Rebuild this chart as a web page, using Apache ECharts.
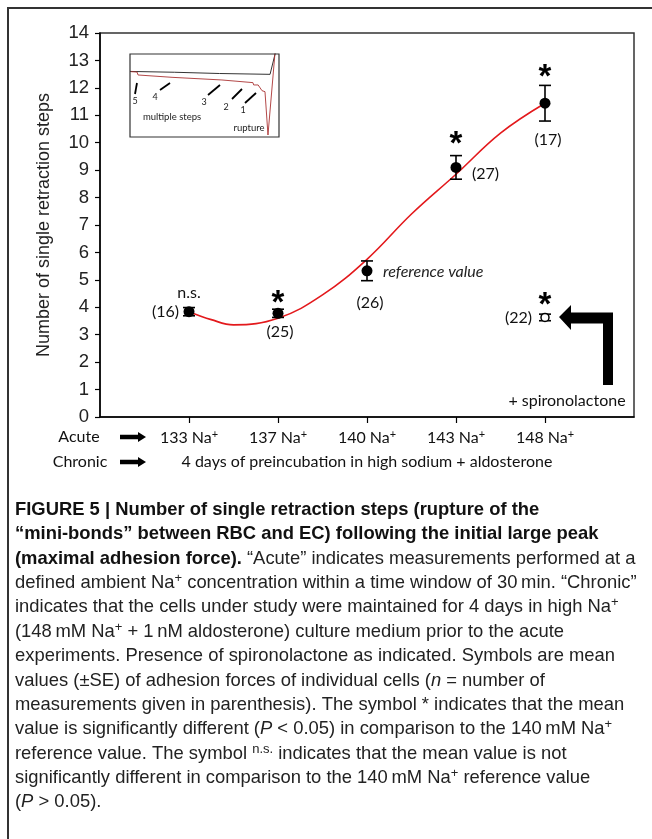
<!DOCTYPE html>
<html><head><meta charset="utf-8">
<script src="https://cdn.jsdelivr.net/npm/echarts@6/dist/echarts.min.js"></script>
<style>html,body{margin:0;padding:0;background:#fff}#c{width:652px;height:839px}</style>
</head><body><div id="c"></div>
<script>
// ---------- data ----------
const categories = ['133', '137', '140', '143', '148'];
const xPos = [1, 2, 3, 4, 5];
const meanSteps = [3.84, 3.78, 5.33, 9.10, 11.44];
const seSteps = [0.15, 0.15, 0.36, 0.43, 0.65];
const nLabels = ['(16)', '(25)', '(26)', '(27)', '(17)'];
const sigLabels = ['n.s.', '*', '', '*', '*'];
const spiroX = [5];
const spiroMean = [3.63];
const spiroSE = [0.12];
const spiroN = ['(22)'];
const spiroSig = ['*'];
const trendX = [1, 1.25, 1.5, 2, 2.5, 3, 3.5, 4, 4.5, 5];
const trendY = [3.84, 3.55, 3.36, 3.60, 4.45, 5.75, 7.40, 8.85, 10.35, 11.44];
const insetBlackX = [0, 30, 60, 94, 97.5];
const insetBlackY = [79, 78, 76.5, 75.5, 101];
const insetRedX = [0.7, 4.7, 5.4, 28.2, 28.5, 61.7, 62, 82.5, 83, 86, 88.6, 90.6, 92.6, 97.3];
const insetRedY = [78.7, 78.3, 74.7, 71.9, 71.1, 68.7, 66.3, 65.5, 62.7, 62.7, 55.8, 54.6, 2.4, 101];

// ---------- styles ----------
const CAL = 'Lato, "Open Sans", sans-serif';
const ARL = '"Liberation Sans", Arial, sans-serif';
const nLabelStyle = [
  {offset: [-10, 0], align: 'right'},
  {offset: [2, 19], align: 'center'},
  {offset: [3, 32], align: 'center'},
  {offset: [16, 6], align: 'left'},
  {offset: [3, 37], align: 'center'}
];
const sigOffsets = [[0, -15], [0, -5], [0, 0], [0, -11], [0, -7]];
const STAR = {fontFamily: ARL, fontWeight: 'bold', fontSize: 33, color: '#000'};
const HIDDEN = {color: 'rgba(0,0,0,0)', opacity: 1};

const chart = echarts.init(document.getElementById('c'));

const errData = xPos.map((x, i) => [x, meanSteps[i] - seSteps[i], meanSteps[i] + seSteps[i]])
  .concat(spiroX.map((x, i) => [x, spiroMean[i] - spiroSE[i], spiroMean[i] + spiroSE[i]]));

function errRender(params, api) {
  const x = api.value(0);
  const lo = api.coord([x, api.value(1)]);
  const hi = api.coord([x, api.value(2)]);
  const w = 6;
  const st = {stroke: '#000', lineWidth: 1.6};
  return {type: 'group', children: [
    {type: 'line', shape: {x1: lo[0], y1: lo[1], x2: hi[0], y2: hi[1]}, style: st},
    {type: 'line', shape: {x1: lo[0] - w, y1: lo[1], x2: lo[0] + w, y2: lo[1]}, style: st},
    {type: 'line', shape: {x1: hi[0] - w, y1: hi[1], x2: hi[0] + w, y2: hi[1]}, style: st}
  ]};
}

function arrowPts(x0, x1, y) {
  return [[x0, y - 2.2], [x1 - 8, y - 2.2], [x1 - 8, y - 5], [x1, y], [x1 - 8, y + 5], [x1 - 8, y + 2.2], [x0, y + 2.2]];
}

const captionLines = [
  '{b|FIGURE 5 | Number of single retraction steps (rupture of the}',
  '{b|\u201Cmini-bonds\u201D between RBC and EC) following the initial large peak}',
  '{b|(maximal adhesion force).} \u201CAcute\u201D indicates measurements performed at a',
  'defined ambient Na{s|+} concentration within a time window of 30\u2009min. \u201CChronic\u201D',
  'indicates that the cells under study were maintained for 4 days in high Na{s|+}',
  '(148\u2009mM Na{s|+} + 1\u2009nM aldosterone) culture medium prior to the acute',
  'experiments. Presence of spironolactone as indicated. Symbols are mean',
  'values (\u00B1SE) of adhesion forces of individual cells ({i|n} = number of',
  'measurements given in parenthesis). The symbol * indicates that the mean',
  'value is significantly different ({i|P} < 0.05) in comparison to the 140\u2009mM Na{s|+}',
  'reference value. The symbol {s|n.s.} indicates that the mean value is not',
  'significantly different in comparison to the 140\u2009mM Na{s|+} reference value',
  '({i|P} > 0.05).'
];
const CAPF = 18.4;
const capRich = {
  b: {fontWeight: 'bold', fontSize: CAPF, fontFamily: ARL, fill: '#111'},
  i: {fontStyle: 'italic', fontSize: CAPF, fontFamily: ARL, fill: '#222'},
  s: {fontSize: 13, fontFamily: ARL, fill: '#222', padding: [0, 0, 9, 0]}
};

const graphics = [];
graphics.push({type: 'polyline', shape: {points: [[8, 839], [8, 8], [652, 8]]}, style: {stroke: '#333', lineWidth: 2, fill: null}});
graphics.push({type: 'rect', shape: {x: 130, y: 54, width: 149, height: 83}, style: {stroke: '#333', lineWidth: 1.2, fill: null}, z: 10});
const slashes = [[[137, 83], [135, 94]], [[160, 90], [170, 83]], [[208, 95], [220, 85]], [[232, 99], [242, 89]], [[245, 103], [256, 93]]];
slashes.forEach(s => graphics.push({type: 'line', shape: {x1: s[0][0], y1: s[0][1], x2: s[1][0], y2: s[1][1]}, style: {stroke: '#000', lineWidth: 1.8}, z: 10}));
const insetNums = [['5', 135, 101], ['4', 155, 97], ['3', 204, 102], ['2', 226, 107], ['1', 243, 110]];
insetNums.forEach(n => graphics.push({type: 'text', x: n[1], y: n[2], style: {text: n[0], font: '9px ' + CAL, fill: '#222', align: 'center', verticalAlign: 'middle'}, z: 10}));
graphics.push({type: 'text', x: 172, y: 117, style: {text: 'multiple steps', font: '9.5px ' + CAL, fill: '#222', align: 'center', verticalAlign: 'middle'}, z: 10});
graphics.push({type: 'text', x: 249, y: 128, style: {text: 'rupture', font: '9.5px ' + CAL, fill: '#222', align: 'center', verticalAlign: 'middle'}, z: 10});
graphics.push({type: 'polygon', shape: {points: [[559, 317], [571, 305], [571, 312.5], [613, 312.5], [613, 385], [603, 385], [603, 323.5], [571, 323.5], [571, 330]]}, style: {fill: '#000'}, z: 10});
graphics.push({type: 'text', x: 567, y: 401, style: {text: '+ spironolactone', font: '16px ' + CAL, fill: '#111', align: 'center', verticalAlign: 'middle'}, z: 10});
graphics.push({type: 'text', x: 79, y: 437, style: {text: 'Acute', font: '16px ' + CAL, fill: '#111', align: 'center', verticalAlign: 'middle'}});
graphics.push({type: 'polygon', shape: {points: arrowPts(120, 146, 437)}, style: {fill: '#000'}});
graphics.push({type: 'text', x: 80, y: 462, style: {text: 'Chronic', font: '16px ' + CAL, fill: '#111', align: 'center', verticalAlign: 'middle'}});
graphics.push({type: 'polygon', shape: {points: arrowPts(120, 146, 462)}, style: {fill: '#000'}});
graphics.push({type: 'text', x: 367, y: 462, style: {text: '4 days of preincubation in high sodium + aldosterone', font: '16px ' + CAL, fill: '#111', align: 'center', verticalAlign: 'middle'}});
captionLines.forEach((t, i) => graphics.push({type: 'text', x: 15, y: 510 + i * 24.35,
  style: {text: t, rich: capRich, fontSize: CAPF, fontFamily: ARL, fill: '#222', align: 'left', verticalAlign: 'middle'}}));

function txtLabel(text, offset, align, extra) {
  return Object.assign({show: true, position: 'inside', formatter: text, offset: offset, align: align,
    verticalAlign: 'middle', fontFamily: CAL, fontSize: 16, color: '#111'}, extra || {});
}

const option = {
  animation: false,
  backgroundColor: '#fff',
  grid: [
    {left: 100, top: 33, right: 18, bottom: 422, show: true, borderColor: '#333', borderWidth: 1.5, backgroundColor: 'transparent', outerBoundsMode: 'none', containLabel: false},
    {left: 130, top: 54, width: 149, height: 83, show: false, outerBoundsMode: 'none', containLabel: false}
  ],
  xAxis: [
    {type: 'value', gridIndex: 0, min: 0, max: 6, interval: 1,
      axisLine: {show: true, onZero: false, lineStyle: {color: '#000', width: 1.5}},
      axisTick: {show: true, customValues: xPos, length: 6, lineStyle: {color: '#000', width: 1.2}},
      axisLabel: {show: true, customValues: xPos, margin: 12,
        formatter: v => '{a|' + categories[xPos.indexOf(v)] + ' Na}{s|+}',
        rich: {a: {fontFamily: CAL, fontSize: 16, color: '#111'}, s: {fontFamily: CAL, fontSize: 11, color: '#111', padding: [0, 0, 7, 0]}}},
      splitLine: {show: false}},
    {type: 'value', gridIndex: 1, min: 0, max: 100, show: false}
  ],
  yAxis: [
    {type: 'value', gridIndex: 0, min: 0, max: 14, interval: 1,
      axisLine: {show: true, onZero: false, lineStyle: {color: '#000', width: 1.5}},
      axisTick: {show: true, length: 5, lineStyle: {color: '#000', width: 1.2}},
      axisLabel: {fontFamily: ARL, fontSize: 18.5, color: '#222', margin: 11},
      splitLine: {show: false},
      name: 'Number of single retraction steps', nameLocation: 'middle', nameGap: 47,
      nameTextStyle: {fontFamily: ARL, fontSize: 18, color: '#222'}},
    {type: 'value', gridIndex: 1, min: 0, max: 100, show: false}
  ],
  series: [
    {type: 'line', name: 'trend', xAxisIndex: 0, yAxisIndex: 0, data: trendX.map((x, i) => [x, trendY[i]]),
      smooth: 0.4, symbol: 'none', lineStyle: {color: '#e3191c', width: 1.6}, z: 2, silent: true},
    {type: 'custom', name: 'se', xAxisIndex: 0, yAxisIndex: 0, data: errData, renderItem: errRender, z: 3, silent: true},
    {type: 'scatter', name: 'mean', xAxisIndex: 0, yAxisIndex: 0, data: xPos.map((x, i) => [x, meanSteps[i]]),
      symbol: 'circle', symbolSize: 11, itemStyle: {color: '#000', opacity: 1}, z: 4, silent: true},
    {type: 'scatter', name: 'spiro', xAxisIndex: 0, yAxisIndex: 0, data: spiroX.map((x, i) => [x, spiroMean[i]]),
      symbol: 'circle', symbolSize: 8, itemStyle: {color: '#fff', borderColor: '#000', borderWidth: 1.5, opacity: 1}, z: 4, silent: true},
    {type: 'scatter', name: 'nLab', xAxisIndex: 0, yAxisIndex: 0, symbol: 'circle', symbolSize: 2, itemStyle: HIDDEN, silent: true, z: 5,
      data: xPos.map((x, i) => ({value: [x, meanSteps[i]], label: txtLabel(nLabels[i], nLabelStyle[i].offset, nLabelStyle[i].align)}))
        .concat(spiroX.map((x, i) => ({value: [x, spiroMean[i]], label: txtLabel(spiroN[i], [-13, 0], 'right')})))},
    {type: 'scatter', name: 'sig', xAxisIndex: 0, yAxisIndex: 0, symbol: 'circle', symbolSize: 2, itemStyle: HIDDEN, silent: true, z: 5,
      data: xPos.map((x, i) => ({value: [x, meanSteps[i] + seSteps[i]],
        label: txtLabel(sigLabels[i], sigOffsets[i], 'center', sigLabels[i] === '*' ? STAR : {show: sigLabels[i] !== ''})}))
        .concat(spiroX.map((x, i) => ({value: [x, spiroMean[i] + spiroSE[i]],
        label: txtLabel(spiroSig[i], [0, -8], 'center', STAR)})))},
    {type: 'scatter', name: 'ref', xAxisIndex: 0, yAxisIndex: 0, symbol: 'circle', symbolSize: 2, itemStyle: HIDDEN, silent: true, z: 5,
      data: [{value: [xPos[2], meanSteps[2]], label: txtLabel('reference value', [16, 1], 'left', {fontStyle: 'italic', color: '#222'})}]},
    {type: 'line', name: 'insetBlack', xAxisIndex: 1, yAxisIndex: 1, data: insetBlackX.map((x, i) => [x, insetBlackY[i]]),
      symbol: 'none', lineStyle: {color: '#333', width: 1}, silent: true, z: 6},
    {type: 'line', name: 'insetRed', xAxisIndex: 1, yAxisIndex: 1, data: insetRedX.map((x, i) => [x, insetRedY[i]]),
      symbol: 'none', lineStyle: {color: '#a33', width: 0.9}, silent: true, z: 6}
  ],
  graphic: graphics
};
chart.setOption(option);
</script></body></html>
